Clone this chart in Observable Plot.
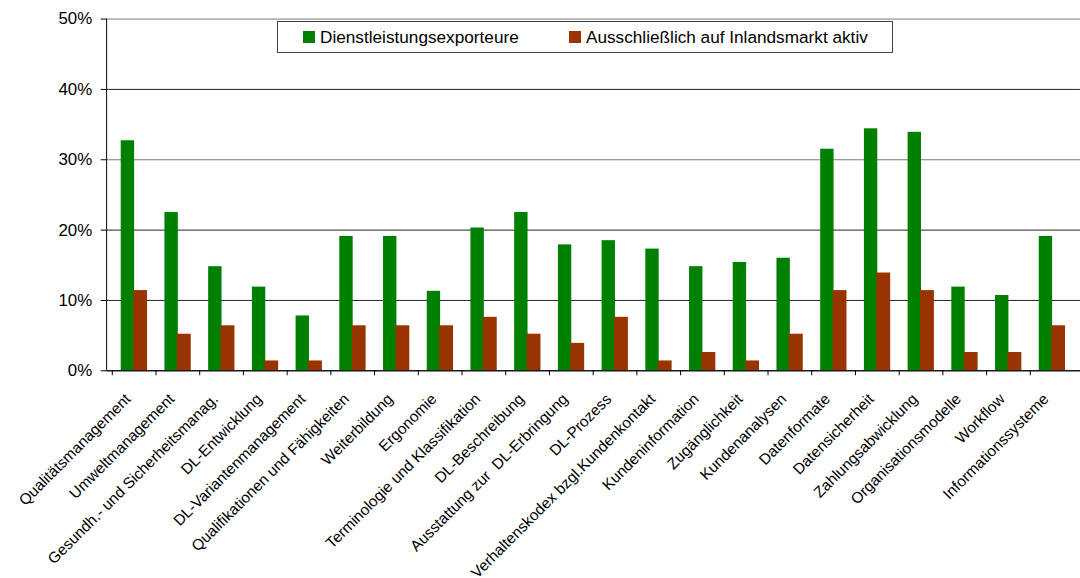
<!DOCTYPE html>
<html>
<head>
<meta charset="utf-8">
<script src="https://cdn.jsdelivr.net/npm/d3@7"></script>
<script src="https://cdn.jsdelivr.net/npm/@observablehq/plot@0.6"></script>
<style>
  html, body { margin: 0; padding: 0; background: #fff; }
  #wrap { position: relative; width: 1080px; height: 578px; overflow: hidden; font-family: "Liberation Sans", Arial, sans-serif; }
  #legend { position: absolute; left: 277px; top: 21px; width: 614px; height: 30px; border: 1px solid #444; background: #fff;
            font-size: 17.2px; color: #000; }
  .item { display: flex; align-items: center; position: absolute; top: 0; height: 30px; }
  .sw { width: 12px; height: 12px; margin-right: 5px; }
</style>
</head>
<body>
<div id="wrap"></div>
<script>
const categories = [
  "Qualitätsmanagement", "Umweltmanagement", "Gesundh.- und Sicherheitsmanag.", "DL-Entwicklung",
  "DL-Variantenmanagement", "Qualifikationen und Fähigkeiten", "Weiterbildung", "Ergonomie",
  "Terminologie und Klassifikation", "DL-Beschreibung", "Ausstattung zur  DL-Erbringung", "DL-Prozess",
  "Verhaltenskodex bzgl.Kundenkontakt", "Kundeninformation", "Zugänglichkeit", "Kundenanalysen",
  "Datenformate", "Datensicherheit", "Zahlungsabwicklung", "Organisationsmodelle", "Workflow",
  "Informationssysteme"
];
const exporteure = [32.7, 22.5, 14.8, 11.9, 7.8, 19.1, 19.1, 11.3, 20.3, 22.5, 17.9, 18.5,
                    17.3, 14.8, 15.4, 16.0, 31.5, 34.4, 33.9, 11.9, 10.7, 19.1];
const inland = [11.4, 5.2, 6.4, 1.4, 1.4, 6.4, 6.4, 6.4, 7.6, 5.2, 3.9, 7.6,
                1.4, 2.6, 1.4, 5.2, 11.4, 13.9, 11.4, 2.6, 2.6, 6.4];
const seriesNames = ["Dienstleistungsexporteure", "Ausschließlich auf Inlandsmarkt aktiv"];
const seriesColors = ["#008000", "#993300"];
const yTicks = [0, 10, 20, 30, 40, 50];

const data = categories.map((c, i) => ({category: c, exp: exporteure[i], inl: inland[i]}));

const W = 1087, H = 578, mL = 107.3, mR = 0, mT = 18.7, mB = 205.3;
const bw = (W - mL - mR) / categories.length;

const chart = Plot.plot({
  width: W, height: H,
  marginLeft: mL, marginRight: mR, marginTop: mT, marginBottom: mB,
  style: {fontFamily: '"Liberation Sans", Arial, sans-serif', fontSize: "15.5px", color: "#000", background: "#fff", overflow: "visible"},
  x: {domain: categories, padding: 0, label: null, axis: null},
  y: {domain: [0, 50], label: null},
  marks: [
    Plot.ruleY(yTicks, {stroke: d => (d === 30 || d === 50) ? "#7a7a7a" : "#222", strokeWidth: 1}),
    Plot.barY(data, {x: "category", y: "exp", fill: seriesColors[0], insetLeft: 8.5, insetRight: bw - 22.5}),
    Plot.barY(data, {x: "category", y: "inl", fill: seriesColors[1], insetLeft: 21, insetRight: bw - 35.5}),
    Plot.ruleY([0], {stroke: "#000", strokeWidth: 1}),
    Plot.axisY({ticks: yTicks, tickFormat: d => d + "%", tickSize: 6, tickPadding: 9, fontSize: 17, label: null}),
    Plot.text(categories, {x: d => d, frameAnchor: "bottom", rotate: -45, textAnchor: "end", lineAnchor: "middle",
                           dx: -6.6, dy: 25.9, fontSize: 15.5, fill: "#000"})
  ]
});

// category boundary ticks and left axis line, placed with the chart's own scales
const xs = chart.scale("x");
const ys = chart.scale("y");
const svg = d3.select(chart);
const y0 = ys.apply(0), y50 = ys.apply(50);
const bounds = categories.map(c => xs.apply(c));
svg.append("g").attr("stroke", "#000").selectAll("line").data(bounds).join("line")
  .attr("x1", d => d).attr("x2", d => d).attr("y1", y0).attr("y2", y0 + 5);
svg.append("line").attr("stroke", "#000").attr("x1", mL).attr("x2", mL).attr("y1", y50).attr("y2", y0);

const wrap = document.getElementById("wrap");
wrap.appendChild(chart);

const legend = document.createElement("div");
legend.id = "legend";
const offsets = [25, 291];
seriesNames.forEach((name, i) => {
  const it = document.createElement("div");
  it.className = "item";
  it.style.left = offsets[i] + "px";
  const sw = document.createElement("div");
  sw.className = "sw";
  sw.style.background = seriesColors[i];
  const t = document.createElement("span");
  t.textContent = name;
  it.appendChild(sw); it.appendChild(t);
  legend.appendChild(it);
});
wrap.appendChild(legend);
</script>
</body>
</html>
